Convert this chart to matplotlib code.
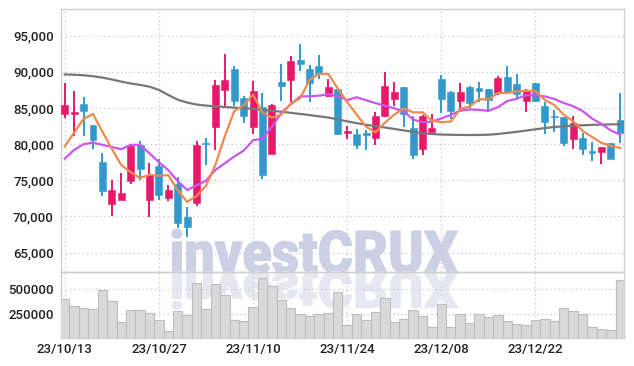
import matplotlib
matplotlib.use("Agg")
import matplotlib.pyplot as plt
from matplotlib.textpath import TextPath
from matplotlib.patches import PathPatch
from matplotlib.font_manager import FontProperties
from matplotlib.transforms import Affine2D
import numpy as np

# ---------------- data ----------------
opens = [84100, 84130, 85600, 82600, 77480, 71740, 72290, 74910, 79820, 72200,
         76930, 72480, 74540, 69960, 71880, 80180, 82340, 87480, 90410, 86420,
         82430, 85180, 78670, 88620, 88900, 91650, 90370, 90830, 86610, 87620,
         81600, 81420, 81420, 80830, 83850, 86240, 87940, 82290, 79360, 81650,
         88990, 87250, 85960, 87940, 87800, 87620, 87060, 89310, 88350, 85960,
         88440, 85320, 83950, 83810, 80730, 80870, 78990, 78900, 80180, 83350]
highs = [88390, 87340, 86510, 82700, 78810, 75050, 76060, 79820, 80370, 77340,
         77890, 74310, 75460, 71330, 80500, 80830, 88900, 92430, 90830, 86610,
         88760, 87060, 85550, 91060, 92200, 93810, 90920, 92290, 89080, 87710,
         82570, 82110, 82020, 84500, 90000, 88530, 87940, 83950, 84040, 84130,
         89540, 87390, 88400, 88070, 88530, 87620, 89360, 90830, 89680, 87620,
         88500, 85780, 84770, 83810, 83950, 81510, 80280, 79630, 80180, 87060]
lows = [83580, 81190, 81190, 79360, 72850, 70090, 72200, 74500, 75000, 69910,
        72200, 72160, 68440, 67160, 71380, 77160, 79130, 85090, 85230, 82940,
        81380, 75140, 78600, 86010, 85780, 90140, 85780, 89080, 86470, 81290,
        80730, 79360, 79130, 79820, 83720, 85320, 82340, 77980, 78440, 81600,
        84310, 83490, 84500, 84960, 85780, 84500, 86790, 87060, 86240, 84500,
        85900, 81420, 81650, 79730, 79360, 78530, 77620, 77290, 77900, 80180]
closes = [85400, 84500, 84600, 80550, 73530, 73620, 73210, 79680, 76510, 75780,
          72940, 73620, 69130, 68580, 79820, 80000, 88170, 88900, 85920, 83850,
          87390, 75780, 85410, 87980, 91510, 91060, 88400, 89770, 87840, 81420,
          81650, 79820, 81330, 83950, 88070, 87250, 84180, 78530, 83950, 82290,
          86240, 84590, 87250, 85690, 87290, 86100, 89130, 87160, 86880, 87520,
          85920, 83030, 83720, 80140, 82940, 79360, 78810, 79630, 77980, 81560]
volumes = [398000, 332000, 309000, 299000, 490000, 378000, 171000, 289000, 289000, 260000,
           191000, 82000, 280000, 243000, 556000, 299000, 546000, 437000, 191000, 181000,
           319000, 605000, 526000, 388000, 309000, 250000, 234000, 250000, 260000, 474000,
           141000, 250000, 191000, 270000, 408000, 171000, 201000, 289000, 234000, 122000,
           349000, 122000, 250000, 161000, 250000, 220000, 240000, 181000, 158000, 141000,
           191000, 201000, 181000, 309000, 280000, 250000, 122000, 102000, 92000, 585000]
ma_short = [79680, 81600, 83490, 84170, 81716, 79360, 77102, 76118, 75310, 75760,
            75624, 75706, 73596, 72010, 72818, 74230, 77140, 81094, 84562, 85368,
            86846, 84368, 83670, 84082, 85614, 86348, 88872, 89744, 89716, 87698,
            85816, 84100, 82412, 81634, 82964, 84084, 84956, 84396, 84396, 83240,
            83038, 83120, 84864, 85212, 86212, 86184, 87092, 87074, 87312, 87358,
            87322, 86102, 85414, 84066, 83150, 81838, 80994, 80176, 79744, 79468]
ma_mid = [78000, 79200, 80000, 80200, 79900, 79600, 79300, 79900, 79900, 78738,
          77492, 76404, 74857, 73660, 74289, 74927, 76423, 77345, 78286, 79093,
          80538, 80754, 82382, 84322, 85491, 86597, 86620, 86707, 86899, 86656,
          86082, 86486, 86078, 85675, 85331, 84950, 84528, 83404, 83015, 83102,
          83561, 84038, 84630, 84804, 84726, 84611, 85106, 85969, 86262, 86785,
          86753, 86597, 86244, 85689, 85254, 84580, 83548, 82795, 81905, 81309]
ma_long = [89650, 89600, 89530, 89400, 89200, 88950, 88650, 88400, 88200, 87950,
           87500, 86800, 86150, 85750, 85480, 85330, 85230, 85140, 85050, 84960,
           84880, 84760, 84620, 84480, 84330, 84180, 84020, 83850, 83680, 83420,
           83150, 82900, 82680, 82480, 82300, 82100, 81900, 81700, 81500, 81400,
           81330, 81290, 81270, 81260, 81270, 81300, 81400, 81550, 81700, 81880,
           82050, 82220, 82370, 82470, 82550, 82610, 82660, 82700, 82730, 82760]
tick_labels = ['23/10/13', '23/10/27', '23/11/10', '23/11/24', '23/12/08', '23/12/22']
tick_step = 10
price_ticks = [65000, 70000, 75000, 80000, 85000, 90000, 95000]
volume_ticks = [250000, 500000]

# ---------------- styling ----------------
UP = '#e8186a'
DOWN = '#3399cc'
GRID = '#c9cbe0'
SPINE = '#cfcfcf'
TXT = '#222222'
FONT = 'Roboto'

W, H = 634, 366
fig = plt.figure(figsize=(W / 100, H / 100), dpi=100)
fig.patch.set_facecolor('white')

# background layer for the watermark (pixel coordinates, y downwards)
bg = fig.add_axes([0, 0, 1, 1], zorder=-5)
bg.set_xlim(0, W)
bg.set_ylim(H, 0)
bg.axis('off')

def px_axes(l, t, r, b):
    return [l / W, 1 - b / H, (r - l) / W, (b - t) / H]

ax = fig.add_axes(px_axes(60.7, 9, 624, 272.3))
axv = fig.add_axes(px_axes(60.7, 272.3, 624, 337.7), sharex=ax)
for a in (ax, axv):
    a.set_facecolor('none')
    for s in a.spines.values():
        s.set_color(SPINE)
        s.set_linewidth(1.0)
    a.tick_params(length=0, labelsize=9.5, colors=TXT, pad=5)
    a.grid(True, color=GRID, linestyle=(0, (1.2, 2.2)), linewidth=0.9)
    a.set_axisbelow(True)

# watermark
fp = FontProperties(family=FONT, weight=900)
tp = TextPath((0, 0), 'investCRUX', size=100, prop=fp)
bb = tp.get_extents()
x0, x1, y_top, y_base = 172, 458, 229, 273
sx = (x1 - x0) / bb.width
sy = (y_base - y_top) / (bb.y1 - 0)
main_tr = Affine2D().translate(-bb.x0, 0).scale(sx, -sy).translate(x0, y_base)
bg.add_patch(PathPatch(main_tr.transform_path(tp), facecolor='#cbd0e5', edgecolor='#cbd0e5', linewidth=0.8))
refl_tr = Affine2D().translate(-bb.x0, 0).scale(sx, sy * 0.85).translate(x0, y_base - 1)
bg.add_patch(PathPatch(refl_tr.transform_path(tp), facecolor='#e6e8f1', edgecolor='#e6e8f1', linewidth=0.8))

# candles
x = np.arange(len(closes))
o = np.array(opens); c = np.array(closes)
hi = np.array(highs); lo = np.array(lows)
up = c >= o
cols = np.where(up, UP, DOWN)
bottoms = np.minimum(o, c)
heights = np.maximum(np.abs(c - o), 180)
ax.vlines(x, lo, hi, colors=cols, linewidth=1.4, zorder=3)
ax.bar(x, heights, bottom=bottoms, width=0.74, color=cols, edgecolor=cols, linewidth=0.4, zorder=4)

ax.plot(x, ma_long, color='#777777', linewidth=1.6, zorder=5)
ax.plot(x, ma_mid, color='#cc55ee', linewidth=1.6, zorder=5)
ax.plot(x, ma_short, color='#ee8a50', linewidth=1.6, zorder=6)

ax.set_ylim(62260, 98700)
ax.set_yticks(price_ticks)
ax.set_yticklabels([f'{v:,.0f}' for v in price_ticks])
ax.tick_params(axis='x', labelbottom=False)

axv.bar(x, volumes, width=1.0, color='#d9d9d9', edgecolor='#bdbdbd', linewidth=0.8, zorder=3)
axv.set_ylim(20000, 665000)
axv.set_yticks(volume_ticks)
axv.set_yticklabels([f'{v:d}' for v in volume_ticks])
axv.set_xticks(np.arange(0, len(closes), tick_step)[:len(tick_labels)])
axv.set_xticklabels(tick_labels)
axv.set_xlim(-0.43, 59.4)
axv.tick_params(axis='x', pad=4)

for lab in ax.get_yticklabels() + axv.get_yticklabels() + axv.get_xticklabels():
    lab.set_fontfamily(FONT)
    lab.set_fontweight('medium')

fig.savefig('out.png', dpi=100)
